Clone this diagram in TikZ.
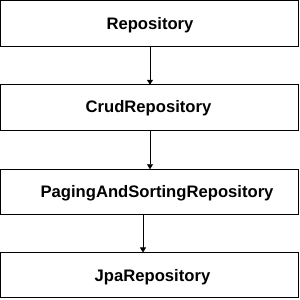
\documentclass[tikz,border=0pt]{standalone}
\usepackage{fontspec}
\setmainfont{Liberation Sans}
\usetikzlibrary{arrows.meta}
\begin{document}
\begin{tikzpicture}[x=1bp,y=-1bp,
  box/.style={draw=black,line width=1bp,minimum width=298bp,minimum height=45.5bp,inner sep=0pt,outer sep=0pt},
  lbl/.style={font=\bfseries\fontsize{16.7}{19}\selectfont,inner sep=0pt},
  arr/.style={draw=black,line width=0.8bp,-{Triangle[length=5bp,width=6bp]}}]
\useasboundingbox (0,0) rectangle (300,300);
\node[box] (b1) at (149.5,23.3) {};
\node[box] (b2) at (149.5,107.5) {};
\node[box] (b3) at (149.5,192) {};
\node[box] (b4) at (149.5,275.2) {};
\node[lbl] (t1) at (150,25) {Repository};
\node[lbl] (t2) at (148.5,108.5) {CrudRepository};
\node[lbl] (t3) at (157,193) {PagingAndSortingRepository};
\node[lbl] (t4) at (152.5,277) {JpaRepository};
\draw[arr] ([xshift=0.5bp]b1.south) -- ([xshift=0.5bp]b2.north);
\draw[arr] ([xshift=0.5bp]b2.south) -- ([xshift=0.5bp]b3.north);
\draw[arr] ([xshift=-6.5bp]b3.south) -- ([xshift=-6.5bp]b4.north);
\end{tikzpicture}
\end{document}
